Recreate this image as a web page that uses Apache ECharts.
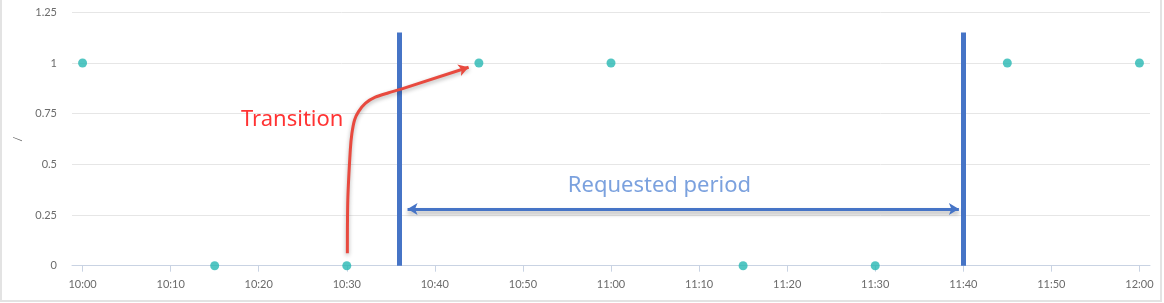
<!DOCTYPE html>
<html>
<head>
<meta charset="utf-8">
<script src="https://cdn.jsdelivr.net/npm/echarts@6/dist/echarts.min.js"></script>
<style>
  html, body { margin: 0; padding: 0; background: #fff; }
  #chart { position: absolute; left: 0; top: 0; width: 1164px; height: 303px; }
  #frame { position: absolute; left: 0; top: -2px; width: 1158px; height: 300px; border: 2px solid #e3e3e3; pointer-events: none; }
</style>
</head>
<body>
<div id="chart"></div>
<div id="frame"></div>
<script>
// ---- data ----
const xTickLabels = ['10:00','10:10','10:20','10:30','10:40','10:50','11:00','11:10','11:20','11:30','11:40','11:50','12:00'];
const yTickValues = [0, 0.25, 0.5, 0.75, 1, 1.25];
const times  = ['10:00','10:15','10:30','10:45','11:00','11:15','11:30','11:45','12:00'];
const values = [1, 0, 0, 1, 1, 0, 0, 1, 1];

const periodBounds = ['10:36', '11:40'];
const periodTop = 1.15;
const periodArrowFrom = '10:36:54';
const periodArrowTo = '11:39:30';
const periodArrowY = 0.28;
const periodLabel = 'Requested period';
const periodLabelAt = ['11:05:30', 0.395];

const transitionTimes  = ['10:30:04','10:30:07','10:30:24','10:30:35','10:30:53','10:31:20','10:32:06','10:33:14','10:34:45','10:36:05'];
const transitionValues = [0.061, 0.324, 0.571, 0.653, 0.719, 0.760, 0.801, 0.831, 0.853, 0.870];
const transitionTip = ['10:43:50', 0.979];
const transitionLabel = 'Transition';
const transitionLabelAt = ['10:23:48', 0.72];

// ---- helpers ----
function toMin(s) {
  const p = s.split(':').map(Number);
  return (p[0] - 10) * 60 + p[1] + (p[2] || 0) / 60;
}
const tickMins = xTickLabels.map(toMin);
const span = tickMins[tickMins.length - 1] - tickMins[0];

const blue = '#4674c6';
const red = '#e84a3f';
const shadowRed = { shadowBlur: 4, shadowColor: 'rgba(0,0,0,0.3)', shadowOffsetY: 2 };

const chart = echarts.init(document.getElementById('chart'));
chart.setOption({
  animation: false,
  grid: { left: 72, right: 14, top: 12.3, bottom: 37.3 },
  xAxis: {
    type: 'value',
    min: tickMins[0] - span * 0.01,
    max: tickMins[tickMins.length - 1] + span * 0.01,
    axisLine: { lineStyle: { color: '#c9d3e3', width: 1 } },
    axisTick: { show: true, length: 6, customValues: tickMins, lineStyle: { color: '#c9d3e3' } },
    axisLabel: {
      customValues: tickMins,
      formatter: v => xTickLabels[tickMins.findIndex(t => Math.abs(t - v) < 1e-6)] || '',
      color: '#6b6b6b', fontFamily: 'Lato', fontSize: 11, margin: 13
    },
    splitLine: { show: false }
  },
  yAxis: {
    type: 'value',
    min: yTickValues[0], max: yTickValues[yTickValues.length - 1], interval: 0.25,
    name: '/', nameLocation: 'middle', nameRotate: 90, nameGap: 46,
    nameTextStyle: { color: '#666', fontFamily: 'Lato', fontSize: 11 },
    axisLine: { show: false }, axisTick: { show: false },
    axisLabel: { color: '#6b6b6b', fontFamily: 'Lato', fontSize: 11, margin: 15 },
    splitLine: { lineStyle: { color: '#e6e6e6', width: 1 } }
  },
  series: [
    {
      name: 'state', type: 'scatter', symbolSize: 9,
      itemStyle: { color: '#27b8b3' },
      data: times.map((t, i) => [toMin(t), values[i]]),
      z: 3
    },
    {
      name: 'period', type: 'line', data: [], silent: true,
      markLine: {
        silent: true, animation: false,
        label: { show: false },
        data: [
          [ { coord: [toMin(periodBounds[0]), 0], symbol: 'none', lineStyle: { color: blue, width: 5, type: 'solid' } },
            { coord: [toMin(periodBounds[0]), periodTop], symbol: 'none' } ],
          [ { coord: [toMin(periodBounds[1]), 0], symbol: 'none', lineStyle: { color: blue, width: 5, type: 'solid' } },
            { coord: [toMin(periodBounds[1]), periodTop], symbol: 'none' } ],
          [ { coord: [toMin(periodArrowFrom), periodArrowY], symbol: 'arrow', symbolSize: [9, 10],
              lineStyle: { color: blue, width: 3, type: 'solid', shadowBlur: 4, shadowColor: 'rgba(0,0,0,0.35)', shadowOffsetY: 3 } },
            { coord: [toMin(periodArrowTo), periodArrowY], symbol: 'arrow', symbolSize: [9, 10] } ]
        ]
      },
      z: 4
    },
    {
      name: 'transition', type: 'line', smooth: 0.3, symbol: 'none', silent: true,
      lineStyle: Object.assign({ color: red, width: 3 }, shadowRed),
      data: transitionTimes.map((t, i) => [toMin(t), transitionValues[i]]),
      markLine: {
        silent: true, animation: false, label: { show: false },
        data: [
          [ { coord: [toMin(transitionTimes[transitionTimes.length - 1]), transitionValues[transitionValues.length - 1]], symbol: 'none',
              lineStyle: Object.assign({ color: red, width: 3, type: 'solid' }, shadowRed) },
            { coord: [toMin(transitionTip[0]), transitionTip[1]], symbol: 'arrow', symbolSize: [9, 10] } ]
        ]
      },
      z: 5
    },
    {
      name: 'labels', type: 'scatter', symbolSize: 0, silent: true,
      data: [
        { value: [toMin(transitionLabelAt[0]), transitionLabelAt[1]], name: transitionLabel,
          label: { color: '#ff0000' } },
        { value: [toMin(periodLabelAt[0]), periodLabelAt[1]], name: periodLabel,
          label: { color: '#5a8ad6' } }
      ],
      label: { show: true, position: 'inside', formatter: p => p.name, fontFamily: 'Noto Sans', fontSize: 22 },
      z: 6
    }
  ]
});
</script>
</body>
</html>
